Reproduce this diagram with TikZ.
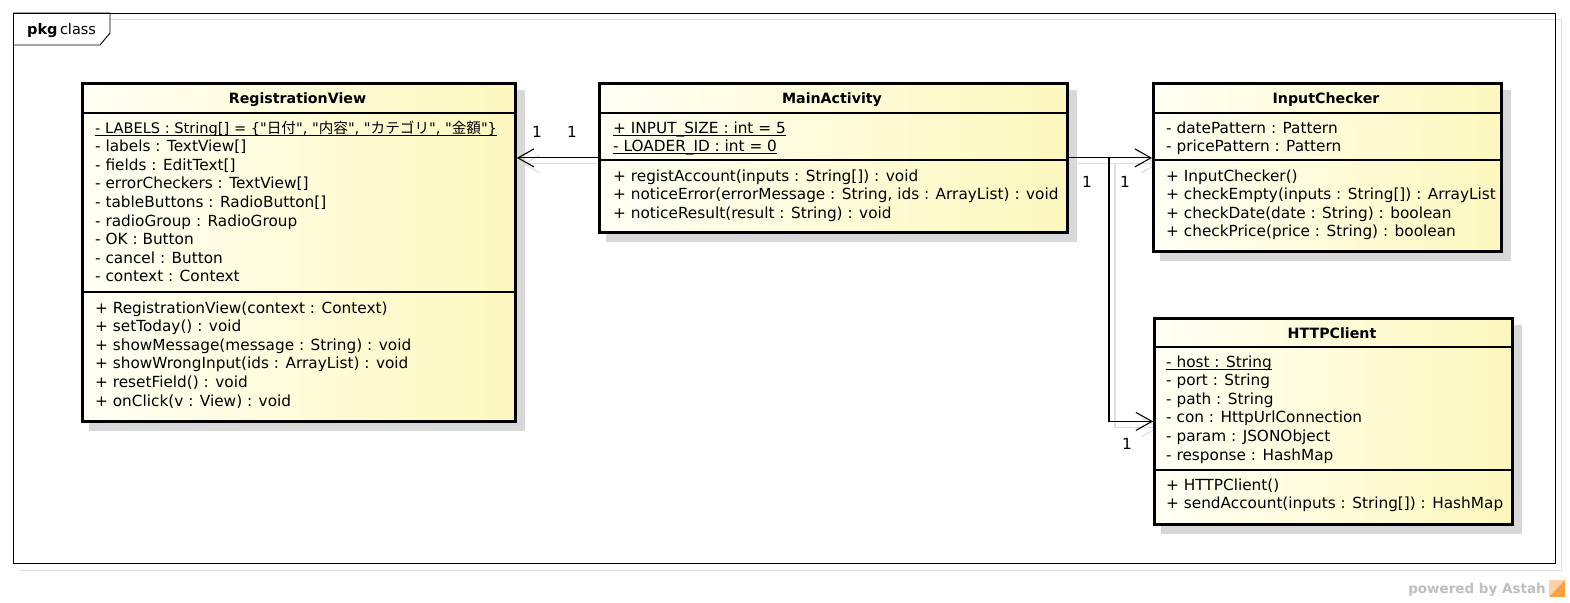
\documentclass[tikz,border=0pt]{standalone}
\usepackage{fontspec}
\setmainfont{DejaVu Sans}
\newfontfamily\cjk{Noto Sans CJK JP}
\usetikzlibrary{arrows.meta}
\pgfdeclarelayer{back}
\pgfdeclarelayer{bg}
\pgfsetlayers{back,bg,main}
\definecolor{boxlight}{RGB}{255,255,244}
\definecolor{boxdark}{RGB}{253,248,190}
\definecolor{shadowgray}{RGB}{216,216,216}
\definecolor{connshade}{RGB}{222,222,222}
\newcommand\stul[1]{\setbox0\hbox{#1}\rlap{\rule[-2.6pt]{\wd0}{0.9pt}}\box0}
\newcommand\qq[1]{\textquotedbl{\cjk #1}\textquotedbl}
\newcommand\memlist[4]{\foreach \t [count=\i] in {#4} {\node[mem] (#1\i) at (#2,{#3+5+18.6*(\i-1)}) {\t};}}
\tikzset{
  cls/.style={draw=black, line width=2.8pt, left color=boxlight, right color=boxdark, inner sep=0pt, anchor=north west},
  sepline/.style={line width=1.3pt},
  mem/.style={anchor=base west, inner sep=0pt, font=\fontsize{15.3}{18}\selectfont},
  hdr/.style={anchor=base, inner sep=0pt, font=\bfseries\fontsize{14.2}{17}\selectfont},
  mult/.style={anchor=base, inner sep=0pt, font=\fontsize{15.3}{18}\selectfont},
  conn/.style={line width=1.1pt, -{Straight Barb[length=16pt,width=18pt,line width=1.1pt]}},
  connshadow/.style={draw=connshade, line width=1.1pt, -{Straight Barb[length=16pt,width=18pt,line width=1.1pt]}, transform canvas={shift={(6pt,-6pt)}}},
}
\begin{document}
\begin{tikzpicture}[x=1pt,y=-1pt]
\useasboundingbox (0,0) rectangle (1570,602);
\begin{pgfonlayer}{back}
\fill[white] (0,0) rectangle (1570,602);
\end{pgfonlayer}
% frame
\draw[connshade, line width=1pt] (110,20) -- (1561,20) -- (1561,570) -- (20,570);
\draw[line width=0.9pt] (13,13) rectangle (1555,563);
\draw[line width=0.9pt] (13,13) -- (110,13) -- (110,33) -- (100,45) -- (13,45);
\node[anchor=base west, inner sep=0pt, font=\fontsize{14.5}{17}\selectfont] (tab) at (27,35) {\textbf{pkg}\,class};

% boxes
\node[cls, minimum width=433pt, minimum height=338pt] (rv) at (81,82) {};
\node[cls, minimum width=468pt, minimum height=149pt] (ma) at (598,82) {};
\node[cls, minimum width=348pt, minimum height=168pt] (ic) at (1152,82) {};
\node[cls, minimum width=358pt, minimum height=206pt] (hc) at (1153,317) {};

\begin{pgfonlayer}{bg}
\foreach \b in {rv,ma,ic,hc}{
  \fill[shadowgray] ([shift={(8,8)}]\b.north west) rectangle ([shift={(8,8)}]\b.south east);
}
\end{pgfonlayer}

% separators
\draw[sepline] (81,113) -- (514,113);
\draw[sepline] (81,292) -- (514,292);
\draw[sepline] (598,113) -- (1066,113);
\draw[sepline] (598,160) -- (1066,160);
\draw[sepline] (1152,113) -- (1500,113);
\draw[sepline] (1152,160) -- (1500,160);
\draw[sepline] (1153,347) -- (1511,347);
\draw[sepline] (1153,470) -- (1511,470);

% headers
\node[hdr] (rvh) at (297.5,103) {RegistrationView};
\node[hdr] (mah) at (832,103) {MainActivity};
\node[hdr] (ich) at (1326,103) {InputChecker};
\node[hdr] (hch) at (1332,338) {HTTPClient};

% members
\memlist{rva}{95}{128}{{\fontsize{14.6}{18}\selectfont\stul{- LABELS : String[] = \{\qq{日付}, \qq{内容}, \qq{カテゴリ}, \qq{金額}\}}},
  - labels : TextView[], - fields : EditText[], - errorCheckers : TextView[],
  - tableButtons : RadioButton[], - radioGroup : RadioGroup, - OK : Button,
  - cancel : Button, - context : Context}
\memlist{rvo}{95}{308}{+ RegistrationView(context : Context), + setToday() : void,
  + showMessage(message : String) : void, + showWrongInput(ids : ArrayList) : void,
  + resetField() : void, + onClick(v : View) : void}
\memlist{maa}{613}{128}{{\stul{+ INPUT\_SIZE : int = 5}}, {\stul{- LOADER\_ID : int = 0}}}
\memlist{mao}{613}{176}{+ registAccount(inputs : String[]) : void,
  {+ noticeError(errorMessage : String, ids : ArrayList) : void},
  + noticeResult(result : String) : void}
\memlist{ica}{1166}{128}{- datePattern : Pattern, - pricePattern : Pattern}
\memlist{ico}{1166}{176}{+ InputChecker(), + checkEmpty(inputs : String[]) : ArrayList,
  + checkDate(date : String) : boolean, + checkPrice(price : String) : boolean}
\memlist{hca}{1166}{362}{{\stul{- host : String}}, - port : String, - path : String,
  - con : HttpUrlConnection, - param : JSONObject, - response : HashMap}
\memlist{hco}{1166}{485}{+ HTTPClient(), + sendAccount(inputs : String[]) : HashMap}

% connectors
\coordinate (br) at (1109,156.5);
\begin{pgfonlayer}{bg}
\draw[connshadow] (ma.west) -- (rv.east |- ma.west);
\draw[connshadow] (ma.east) -- (ic.west |- ma.east);
\draw[connshadow] (br) |- (hc.west);
\end{pgfonlayer}
\draw[conn] (ma.west) -- (rv.east |- ma.west);
\draw[conn] (ma.east) -- (ic.west |- ma.east);
\draw[conn] (br) |- (hc.west);

% multiplicities
\node[mult] (m1) at (537,137) {1};
\node[mult] (m2) at (572,137) {1};
\node[mult] (m3) at (1087,187) {1};
\node[mult] (m4) at (1125,187) {1};
\node[mult] (m5) at (1127,449) {1};

% powered by
\node[anchor=base east, inner sep=0pt, text=gray!50, font=\bfseries\fontsize{13.5}{15}\selectfont] (pw) at (1546,593) {powered by Astah};
\fill[orange!75] (1549,580) rectangle (1565,597);
\fill[orange!35] (1549,580) -- (1565,580) -- (1549,597) -- cycle;
\end{tikzpicture}
\end{document}
